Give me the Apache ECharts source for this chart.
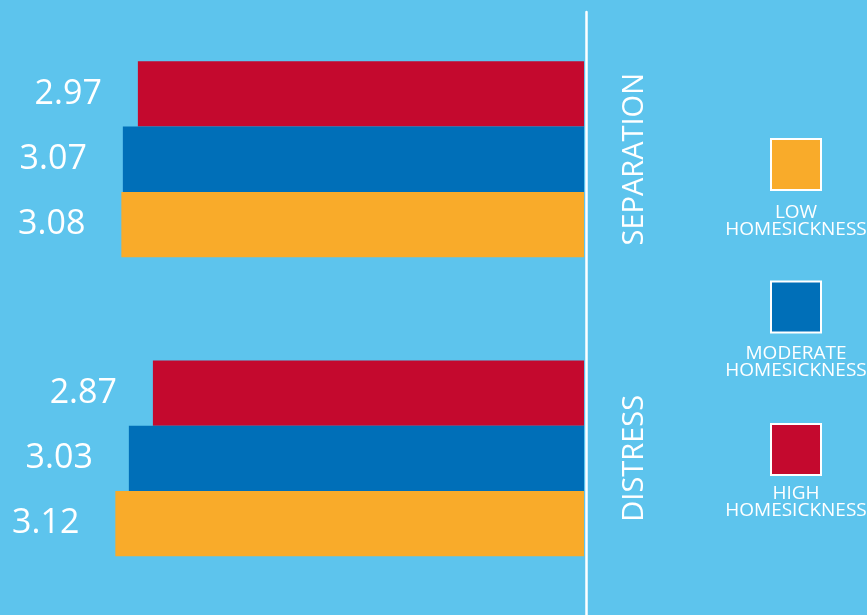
<!DOCTYPE html>
<html><head><meta charset="utf-8">
<script src="https://cdn.jsdelivr.net/npm/echarts@6/dist/echarts.min.js"></script>
<style>html,body{margin:0;padding:0;background:#5DC4ED;} #c{width:867px;height:615px;}</style>
</head><body><div id="c"></div>
<script>
const categories = ['DISTRESS', 'SEPARATION'];
const seriesNames = ['LOW HOMESICKNESS', 'MODERATE HOMESICKNESS', 'HIGH HOMESICKNESS'];
const legendLabels = ['LOW\nHOMESICKNESS', 'MODERATE\nHOMESICKNESS', 'HIGH\nHOMESICKNESS'];
const lowValues = [3.12, 3.08];
const moderateValues = [3.03, 3.07];
const highValues = [2.87, 2.97];
const colors = ['#F9AB2A', '#006FB8', '#C4092E'];
const seriesValues = [lowValues, moderateValues, highValues];

const legendLeft = 770, legendTop = 138, itemW = 50, itemH = 51, itemGap = 89.5;
const legendTextCx = legendLeft + itemW / 2;

// ECharts stacks horizontal bars top-down in series order; draw HIGH first so it sits on top
const drawOrder = [2, 1, 0];

const chart = echarts.init(document.getElementById('c'), null, {renderer: 'canvas'});
chart.setOption({
  backgroundColor: '#5DC4ED',
  animation: false,
  grid: [
    {left: 13.2, right: 283, top: 9.7, bottom: 7.1},
    {left: 0, right: 867 - 586.5, top: 12, bottom: 0}
  ],
  xAxis: [
    {type: 'value', inverse: true, min: 0, max: 3.8, show: false, gridIndex: 0},
    {type: 'value', min: 0, max: 1, show: false, gridIndex: 1}
  ],
  yAxis: [
    {type: 'category', data: categories, position: 'right', gridIndex: 0,
     axisLine: {show: false}, axisTick: {show: false}, splitLine: {show: false},
     axisLabel: {rotate: 90, margin: 36, color: '#fff', fontSize: 29,
       fontFamily: "'Open Sans', sans-serif"}},
    {type: 'value', position: 'right', gridIndex: 1,
     axisLine: {show: true, onZero: false, lineStyle: {color: '#fff', width: 2.5}},
     axisTick: {show: false}, axisLabel: {show: false}, splitLine: {show: false}}
  ],
  legend: {
    orient: 'vertical', left: legendLeft, top: legendTop, padding: 0,
    itemWidth: itemW, itemHeight: itemH, itemGap: itemGap,
    icon: 'rect', selectedMode: false,
    itemStyle: {borderColor: '#fff', borderWidth: 2},
    formatter: () => '', textStyle: {fontSize: 1},
    data: seriesNames
  },
  graphic: legendLabels.map((t, i) => ({
    type: 'text',
    x: legendTextCx + 1,
    y: legendTop + itemH / 2 + i * (itemH + itemGap) + 57.6,
    style: {text: t, fill: '#fff', fontSize: 19, lineHeight: 17, align: 'center', verticalAlign: 'middle',
      fontFamily: "'Open Sans', sans-serif"}
  })),
  series: drawOrder.map(i => ({
    type: 'bar', name: seriesNames[i], data: seriesValues[i],
    xAxisIndex: 0, yAxisIndex: 0,
    barGap: '0%', barCategoryGap: '34.5%',
    itemStyle: {color: colors[i]},
    label: {show: true, position: 'left', distance: 36, color: '#fff', fontSize: 34,
      fontFamily: "'Open Sans', sans-serif",
      formatter: p => p.value.toFixed(2)}
  }))
});
</script></body></html>
